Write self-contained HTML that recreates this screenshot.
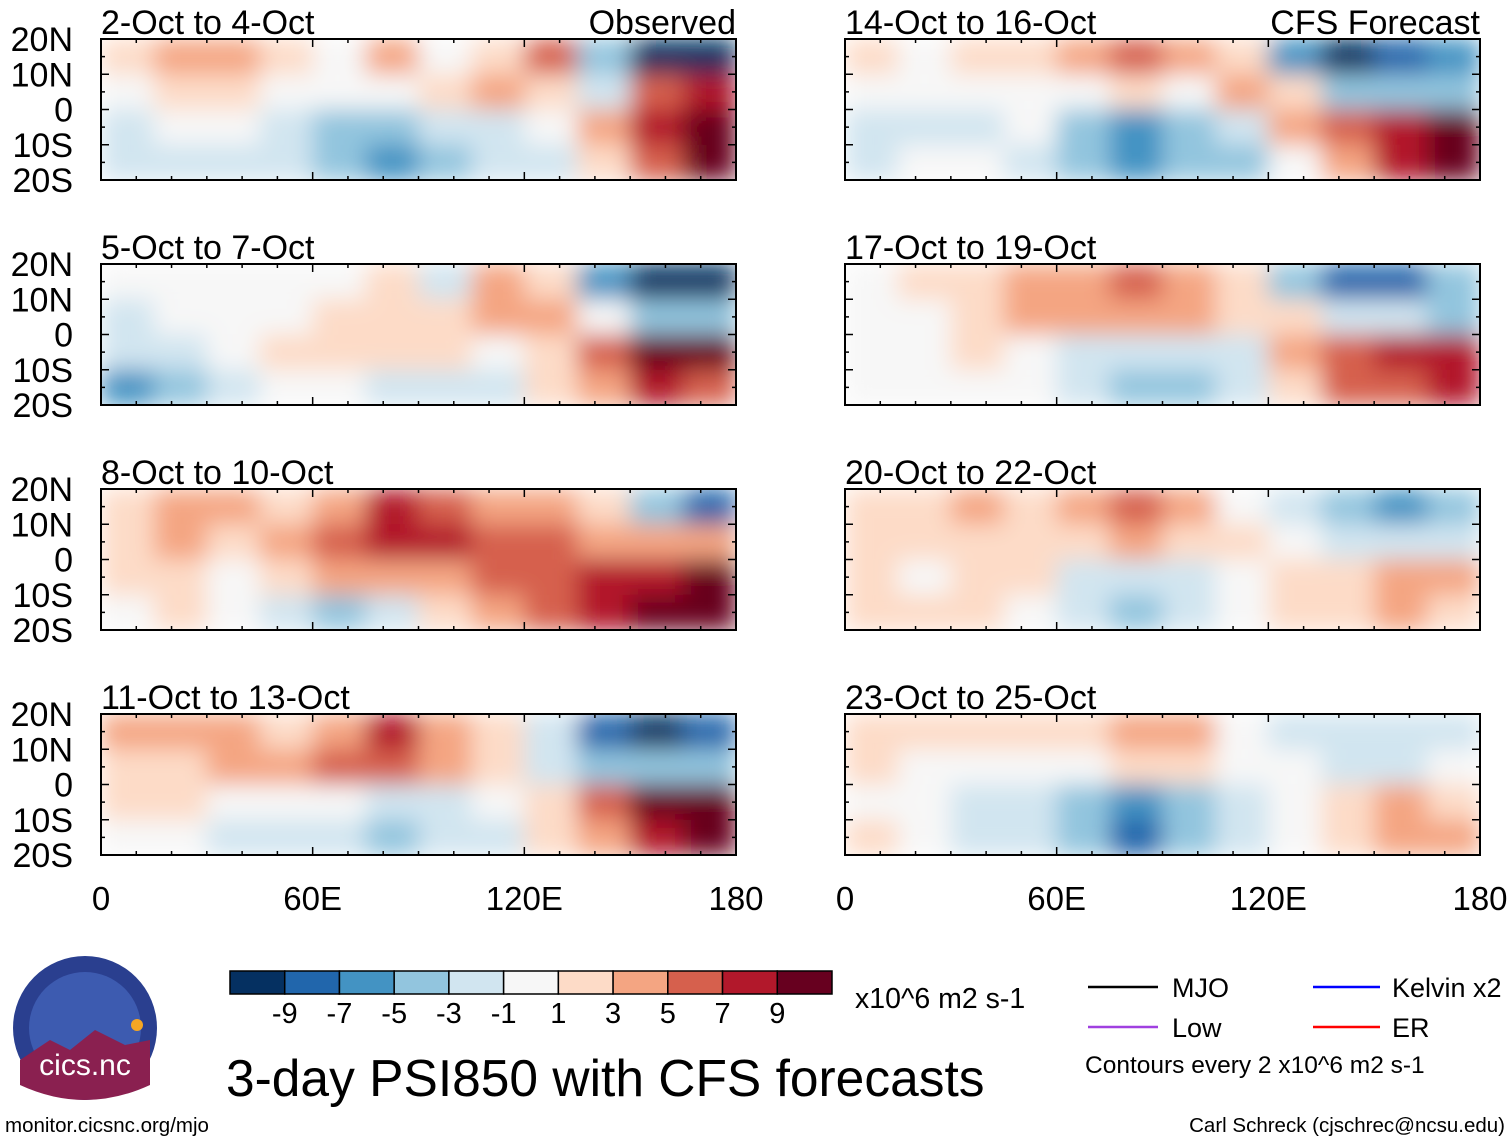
<!DOCTYPE html>
<html><head><meta charset="utf-8">
<style>
body{margin:0;background:#fff;width:1510px;height:1142px;overflow:hidden;font-family:"Liberation Sans",sans-serif;}
svg{display:block}
text{font-family:"Liberation Sans",sans-serif;fill:#000}
</style></head>
<body>
<svg id="chart" width="1510" height="1142" viewBox="0 0 1510 1142">
<defs>
<filter id="smooth" x="0" y="0" width="1" height="1"><feGaussianBlur stdDeviation="12" edgeMode="duplicate"/></filter>
</defs>
<g id="panels"></g>
<g id="footer"></g>
</svg>
<script>
const colors=["#053061","#2166ac","#4393c3","#92c5de","#d1e5f0","#f7f7f7","#fddbc7","#f4a582","#d6604d","#b2182b","#67001f"];
const levels=[-9,-7,-5,-3,-1,1,3,5,7,9];
const lonTicks=["0","60E","120E","180"];
const latTicks=["20N","10N","0","10S","20S"];
const titles=["2-Oct to 4-Oct","5-Oct to 7-Oct","8-Oct to 10-Oct","11-Oct to 13-Oct","14-Oct to 16-Oct","17-Oct to 19-Oct","20-Oct to 22-Oct","23-Oct to 25-Oct"];
// each panel: 4 lat bands (20N-10N,10N-0,0-10S,10S-20S) x 12 lon bins (15 deg)
const p1=[[2,3,4,2,0,3,0,2,6,-5,-10,-11],[0,2,2,0,-1,0,2,3,2,-2,5,8],[-3,0,0,-3,-4,-4,-3,-2,0,3,8,11],[-2,-3,-2,-3,-5,-6,-4,-3,-2,2,6,10]];
const p2=[[-1,0,0,0,0,2,-2,4,2,-6,-10,-11],[-2,0,0,0,2,2,2,4,3,0,-4,-5],[-3,-2,0,2,2,2,2,0,2,5,9,11],[-6,-4,-2,0,0,-2,-2,-3,2,4,7,6]];
const p3=[[2,3,3,2,4,7,5,3,4,2,-4,-9],[2,3,2,3,6,8,7,6,6,4,3,3],[2,2,0,2,3,4,4,5,6,7,8,10],[0,2,0,-3,-4,-2,2,3,5,7,9,11]];
const p4=[[3,3,4,2,4,7,3,2,-3,-9,-11,-8],[2,2,3,3,5,5,3,2,-2,-5,-4,-4],[2,2,0,0,0,-2,-2,0,2,5,10,11],[0,0,-2,-2,-3,-4,-3,-2,2,4,7,9]];
const p5=[[2,0,2,2,3,5,3,2,-6,-10,-9,-7],[0,0,0,0,0,2,0,3,2,-4,-4,-5],[-2,-2,-2,0,-4,-6,-5,-3,3,6,8,9],[-2,0,0,-2,-4,-6,-5,-4,0,4,7,11]];
const p6=[[0,2,2,3,4,5,4,2,-5,-9,-8,-5],[0,0,2,3,4,4,3,2,2,-2,-3,-4],[0,0,2,0,-2,-3,-3,-2,4,6,7,7],[0,0,0,0,-3,-5,-4,-2,2,5,6,7]];
const p7=[[2,2,3,2,3,5,3,0,-3,-5,-6,-4],[2,2,2,2,2,3,2,2,0,-2,-3,-2],[2,0,2,2,-2,-3,-2,0,2,2,3,3],[2,2,2,0,-3,-5,-3,0,2,2,3,2]];
const p8=[[2,2,2,2,2,4,3,0,-3,-3,-2,-3],[2,0,0,0,0,2,2,0,0,-2,-2,0],[0,0,-2,-3,-5,-7,-5,-3,0,2,3,2],[2,0,-2,-3,-5,-8,-5,-3,0,2,3,3]];
const fields=[p1,p2,p3,p4,p5,p6,p7,p8];

const NS="http://www.w3.org/2000/svg";
function mk(tag,attrs,parent){const e=document.createElementNS(NS,tag);for(const k in attrs)e.setAttribute(k,attrs[k]);parent.appendChild(e);return e;}
function colorOf(v){let i=0;while(i<levels.length&&v>=levels[i])i++;return colors[i];}
const colX=[101,845],rowY=[39,264,489,714],PW=635,PH=141;
const panelsG=document.getElementById('panels');
fields.forEach((f,pi)=>{
  const col=pi<4?0:1,row=pi%4;
  const x0=colX[col],y0=rowY[row];
  const xs=lon=>x0+lon/180*PW;
  const ys=lat=>y0+(20-lat)/40*PH;
  const g=mk('g',{},panelsG);
  
  
  const cp=mk('clipPath',{id:'cp'+pi},g);
  mk('rect',{x:x0,y:y0,width:PW,height:PH},cp);
  const cells=mk('g',{'clip-path':'url(#cp'+pi+')'},g);
  const inner=mk('g',{filter:'url(#smooth)'},cells);
  f.forEach((r,ri)=>r.forEach((v,ci)=>{
    const c=mk('rect',{x:xs(ci*15),y:ys(20-ri*10),width:xs(15)-xs(0)+0.5,height:ys(0)-ys(10)+0.5,fill:colorOf(v)},inner);
    
    
  }));
  mk('rect',{x:x0,y:y0,width:PW,height:PH,fill:'none',stroke:'#000','stroke-width':2},g);
  for(let lon=0;lon<=180;lon+=10){mk('line',{x1:xs(lon),x2:xs(lon),y1:y0+PH,y2:y0+PH-(lon%60?4:8),stroke:'#000','stroke-width':1.5},g);mk('line',{x1:xs(lon),x2:xs(lon),y1:y0,y2:y0+(lon%60?4:8),stroke:'#000','stroke-width':1.5},g);}
  for(let lat=-20;lat<=20;lat+=5){mk('line',{x1:x0,x2:x0+(lat%10?4:8),y1:ys(lat),y2:ys(lat),stroke:'#000','stroke-width':1.5},g);mk('line',{x1:x0+PW,x2:x0+PW-(lat%10?4:8),y1:ys(lat),y2:ys(lat),stroke:'#000','stroke-width':1.5},g);}
  const t=mk('text',{x:x0,y:y0-5,'font-size':34},g);t.textContent=titles[pi];
  
  if(row===0){const o=mk('text',{x:x0+PW,y:y0-5,'font-size':34,'text-anchor':'end'},g);o.textContent=col?'CFS Forecast':'Observed';
    }
  if(col===0){latTicks.forEach((l,i)=>{const tt=mk('text',{x:73,y:ys(20-i*10)+12,'font-size':34,'text-anchor':'end'},g);tt.textContent=l;
    });}
  if(row===3){lonTicks.forEach((l,i)=>{const tt=mk('text',{x:xs(i*60),y:910,'font-size':33,'text-anchor':'middle'},g);tt.textContent=l;
    });}
});
// colorbar
const foot=document.getElementById('footer');
const cbX=230,cbW=602,cbY=971,cbH=23,bw=cbW/colors.length;
const cb=mk('g',{},foot);

colors.forEach((c,i)=>{mk('rect',{x:cbX+i*bw,y:cbY,width:bw,height:cbH,fill:c,stroke:'#000','stroke-width':1.5},cb);});
levels.forEach((l,i)=>{const t=mk('text',{x:cbX+(i+1)*bw,y:1023,'font-size':29,'text-anchor':'middle'},cb);t.textContent=l;
  });
</script>
<svg style="position:absolute;left:0;top:0" width="1510" height="1142">
<text x="855" y="1008" font-size="28.5">x10^6 m2 s-1</text>
<g>
<line x1="1088" y1="987" x2="1158" y2="987" stroke="#000" stroke-width="2.5"/>
<text x="1172" y="997" font-size="27">MJO</text>
<line x1="1088" y1="1027" x2="1158" y2="1027" stroke="#a040e0" stroke-width="2.5"/>
<text x="1172" y="1037" font-size="27">Low</text>
<line x1="1313" y1="987" x2="1380" y2="987" stroke="#0000ff" stroke-width="2.5"/>
<text x="1392" y="997" font-size="27">Kelvin x2</text>
<line x1="1313" y1="1027" x2="1380" y2="1027" stroke="#ff0000" stroke-width="2.5"/>
<text x="1392" y="1037" font-size="27">ER</text>
<text x="1085" y="1073" font-size="24.5">Contours every 2 x10^6 m2 s-1</text>
</g>
<text x="226" y="1096" font-size="51.5">3-day PSI850 with CFS forecasts</text>
<g>
<circle cx="85" cy="1028" r="72" fill="#2a3f8f"/>
<circle cx="85" cy="1028" r="56" fill="#3d5bb0"/>
<path d="M20 1060 L50 1040 L70 1050 L95 1030 L125 1045 L150 1040 L150 1085 Q85 1115 20 1085Z" fill="#8a2050"/>
<circle cx="137" cy="1025" r="6" fill="#f5a623"/>
<text x="85" y="1075" font-size="30" text-anchor="middle" style="fill:#fff">cics.nc</text>
</g>
<text x="5" y="1132" font-size="20.5">monitor.cicsnc.org/mjo</text>
<text x="1505" y="1132" font-size="20.5" text-anchor="end">Carl Schreck (cjschrec@ncsu.edu)</text>
</svg>
</body></html>
